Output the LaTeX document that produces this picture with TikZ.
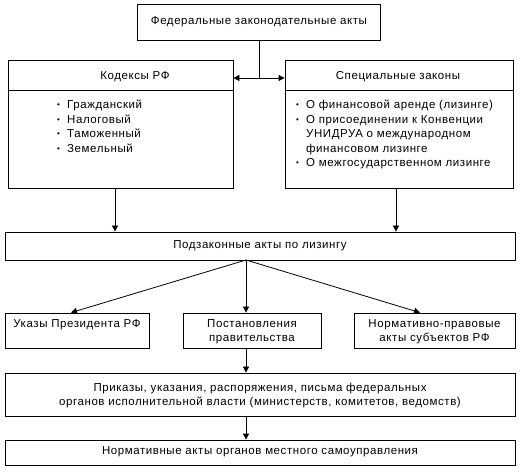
\documentclass[tikz,border=0pt]{standalone}
\usepackage{fontspec}
\setmainfont{Liberation Sans}[LetterSpace=5]
\usetikzlibrary{arrows.meta}
\begin{document}
\begin{tikzpicture}[x=1pt,y=-1pt,
  box/.style={draw,line width=0.8pt,inner sep=0pt,rectangle},
  txt/.style={font=\fontsize{11.5}{14.5}\selectfont,inner sep=0pt,align=center},
  lst/.style={font=\fontsize{11.5}{14.5}\selectfont,inner sep=0pt,align=left,anchor=north west},
  arr/.style={line width=0.8pt,-{Triangle[length=6pt,width=6pt]}},
  ln/.style={line width=0.8pt}]
\useasboundingbox (0,0) rectangle (520,473);
\newcommand{\bul}{\makebox[10pt][l]{\raisebox{1pt}{\scalebox{0.7}{\textbullet}}}}
% boxes
\node[box,minimum width=243pt,minimum height=36pt] (top) at (259,22) {};
\node[txt] (toptxt) at (259,22) {Федеральные законодательные акты};
\node[box,minimum width=225pt,minimum height=128pt] (kod) at (120.5,124) {};
\node[box,minimum width=228pt,minimum height=128pt] (spec) at (399,124) {};
\draw[ln] (kod.west |- 0,90) -- (kod.east |- 0,90);
\draw[ln] (spec.west |- 0,90) -- (spec.east |- 0,90);
\node[txt] (kodh) at (135,77) {Кодексы РФ};
\node[txt] (spech) at (398,77) {Специальные законы};
\node[lst] (kodl) at (57,100) {\bul Гражданский\\ \bul Налоговый\\ \bul Таможенный\\ \bul Земельный};
\node[lst] (specl) at (296,100) {\bul О финансовой аренде (лизинге)\\ \bul О присоединении к Конвенции\\ \hspace*{10pt}УНИДРУА о международном\\ \hspace*{10pt}финансовом лизинге\\ \bul О межгосударственном лизинге};
\node[box,minimum width=510pt,minimum height=28pt] (podz) at (260,246) {};
\node[txt] (podzt) at (260,246) {Подзаконные акты по лизингу};
\node[box,minimum width=144pt,minimum height=35pt] (ukaz) at (77,330.5) {};
\node[box,minimum width=138pt,minimum height=35pt] (post) at (252,330.5) {};
\node[box,minimum width=161pt,minimum height=35pt] (norm) at (434.5,330.5) {};
\node[txt,anchor=north] (ukazt) at (77,319) {Указы Президента РФ};
\node[txt,anchor=north] (postt) at (252,319) {Постановления\\правительства};
\node[txt,anchor=north] (normt) at (434.5,319) {Нормативно-правовые\\акты субъектов РФ};
\node[box,minimum width=510pt,minimum height=43pt] (prik) at (260,394.5) {};
\node[txt] (prikt) at (260,395.5) {Приказы, указания, распоряжения, письма федеральных\\органов исполнительной власти (министерств, комитетов, ведомств)};
\node[box,minimum width=510pt,minimum height=25pt] (mest) at (260,452.5) {};
\node[txt] (mestt) at (260,452) {Нормативные акты органов местного самоуправления};
% connectors
\coordinate (j) at (259,78);
\draw[ln] (top.south) -- (j);
\draw[arr] (j) -- (kod.east |- j);
\draw[arr] (j) -- (spec.west |- j);
\coordinate (k1) at (115,0);
\coordinate (k2) at (396,0);
\draw[arr] (kod.south -| k1) -- (podz.north -| k1);
\draw[arr] (spec.south -| k2) -- (podz.north -| k2);
\coordinate (p) at (246,260);
\coordinate (u) at (71,0);
\coordinate (n) at (420,0);
\draw[arr] (p) -- (ukaz.north -| u);
\draw[arr] (p) -- (post.north -| p);
\draw[arr] (p) -- (norm.north -| n);
\draw[arr] (post.south -| p) -- (prik.north -| p);
\draw[arr] (prik.south -| p) -- (mest.north -| p);
\end{tikzpicture}
\end{document}
